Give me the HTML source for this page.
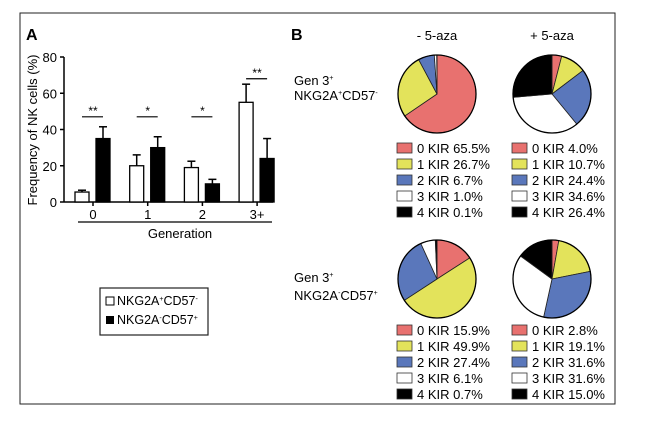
<!DOCTYPE html>
<html><head><meta charset="utf-8"><style>
body{margin:0;background:#fff;}
svg{display:block;font-family:"Liberation Sans",sans-serif;}
</style></head><body>
<svg width="650" height="423" viewBox="0 0 650 423">
<rect x="20" y="13" width="595" height="391" fill="none" stroke="#222" stroke-width="1"/>
<text x="26" y="40" font-size="16" font-weight="bold">A</text>
<text x="291" y="40" font-size="16" font-weight="bold">B</text>
<g id="barchart"></g>
<g>
<rect x="100" y="288" width="108" height="47" fill="#fff" stroke="#222" stroke-width="1.2"/>
<rect x="106" y="297" width="8" height="8" fill="#fff" stroke="#000"/>
<text x="117" y="305" font-size="12.5">NKG2A<tspan font-size="7" dy="-4">+</tspan><tspan dy="4">CD57</tspan><tspan font-size="7" dy="-4">-</tspan></text>
<rect x="106" y="316" width="8" height="8" fill="#000"/>
<text x="117" y="324" font-size="12.5">NKG2A<tspan font-size="7" dy="-4">-</tspan><tspan dy="4">CD57</tspan><tspan font-size="7" dy="-4">+</tspan></text>
</g>
<text x="437" y="40" font-size="13" text-anchor="middle">- 5-aza</text>
<text x="552" y="40" font-size="13" text-anchor="middle">+ 5-aza</text>
<text x="294" y="85" font-size="13">Gen 3<tspan font-size="7" dy="-5">+</tspan></text>
<text x="294" y="100" font-size="13">NKG2A<tspan font-size="7" dy="-5">+</tspan><tspan dy="5">CD57</tspan><tspan font-size="7" dy="-5">-</tspan></text>
<text x="294" y="282" font-size="13">Gen 3<tspan font-size="7" dy="-5">+</tspan></text>
<text x="294" y="300" font-size="13">NKG2A<tspan font-size="7" dy="-5">-</tspan><tspan dy="5">CD57</tspan><tspan font-size="7" dy="-5">+</tspan></text>
<g id="pies"></g>
</svg>
<script>
const NS="http://www.w3.org/2000/svg";
function mk(p,tag,a){const e=document.createElementNS(NS,tag);for(const k in a)e.setAttribute(k,a[k]);p.appendChild(e);return e;}
// Bar chart data
const generations=["0","1","2","3+"];
const whiteVals=[5.5,20,19,55];
const whiteErr=[1,6,3.5,10];
const blackVals=[35,30,10,24];
const blackErr=[6.5,6,2.5,11];
const sigLabels=["**","*","*","**"];
const sigLevels=[47,47,47,68];
const yTicks=[0,20,40,60,80];

const bc=document.getElementById("barchart");
const y0=202,yScale=145/80;
const Y=v=>y0-v*yScale;
const X=i=>93+i*54.7;
mk(bc,"line",{x1:64,y1:Y(80),x2:64,y2:y0,stroke:"#000","stroke-width":1.5});
mk(bc,"line",{x1:64,y1:y0,x2:273,y2:y0,stroke:"#000","stroke-width":1.5});
yTicks.forEach(t=>{
 mk(bc,"line",{x1:60,y1:Y(t),x2:64,y2:Y(t),stroke:"#000","stroke-width":1.5});
 const tx=mk(bc,"text",{x:57,y:Y(t)+5,"font-size":13,"text-anchor":"end"});tx.textContent=t;
 
 
});
const yt=mk(bc,"text",{transform:"translate(37,130) rotate(-90)","font-size":13,"text-anchor":"middle"});
yt.textContent="Frequency of NK cells (%)";


generations.forEach((g,i)=>{
 const cx=X(i);
 mk(bc,"line",{x1:cx,y1:y0,x2:cx,y2:y0+4,stroke:"#000","stroke-width":1.5});
 const t=mk(bc,"text",{x:cx,y:y0+17,"font-size":13,"text-anchor":"middle"});t.textContent=g;
 
 
 [[whiteVals,whiteErr,"#fff",-11],[blackVals,blackErr,"#000",10]].forEach(([v,e,f,off])=>{
  const bx=cx+off-7;
  mk(bc,"line",{x1:cx+off,y1:Y(v[i]),x2:cx+off,y2:Y(v[i]+e[i]),stroke:"#000","stroke-width":1.5});
  mk(bc,"line",{x1:cx+off-4,y1:Y(v[i]+e[i]),x2:cx+off+4,y2:Y(v[i]+e[i]),stroke:"#000","stroke-width":1.5});
  const r=mk(bc,"rect",{x:bx,y:Y(v[i]),width:14,height:v[i]*yScale,fill:f,stroke:"#000","stroke-width":1.3});
  
  
 });
 mk(bc,"line",{x1:cx-11,y1:Y(sigLevels[i]),x2:cx+10,y2:Y(sigLevels[i]),stroke:"#000","stroke-width":1.2});
 const s=mk(bc,"text",{x:cx,y:Y(sigLevels[i])-2,"font-size":12,"text-anchor":"middle"});s.textContent=sigLabels[i];
 
 
});
mk(bc,"line",{x1:78,y1:222,x2:272,y2:222,stroke:"#000","stroke-width":1.2});
const xt=mk(bc,"text",{x:180,y:238,"font-size":13,"text-anchor":"middle"});xt.textContent="Generation";



// Pie data
const kirLabels=["0 KIR","1 KIR","2 KIR","3 KIR","4 KIR"];
const kirColors=["#e8716f","#e3e35b","#5a77bb","#ffffff","#000000"];
const pieTopMinus=[65.5,26.7,6.7,1.0,0.1];
const pieTopPlus=[4.0,10.7,24.4,34.6,26.4];
const pieBotMinus=[15.9,49.9,27.4,6.1,0.7];
const pieBotPlus=[2.8,19.1,31.6,31.6,15.0];
const pg=document.getElementById("pies");
function pie(vals,cx,cy,r,ly,name){
 const g=mk(pg,"g",{});
 
 
 const tot=vals.reduce((a,b)=>a+b,0);let a0=0;
 vals.forEach((v,i)=>{
  const a1=a0+v/tot*2*Math.PI;
  const p=(a)=>[cx+r*Math.sin(a),cy-r*Math.cos(a)];
  const [x0,y0_]=p(a0),[x1,y1]=p(a1);
  const path=mk(g,"path",{d:`M${cx},${cy}L${x0},${y0_}A${r},${r} 0 ${a1-a0>Math.PI?1:0} 1 ${x1},${y1}Z`,fill:kirColors[i],stroke:"#222","stroke-width":0.8});
  
  
  a0=a1;
 });
 mk(g,"circle",{cx:cx,cy:cy,r:r,fill:"none",stroke:"#000","stroke-width":1.3});
 vals.forEach((v,i)=>{
  const yy=ly+i*16;
  mk(g,"rect",{x:cx-40,y:yy-10,width:15,height:10,fill:kirColors[i],stroke:"#333","stroke-width":0.8});
  const t=mk(g,"text",{x:cx-20,y:yy,"font-size":13});t.textContent=kirLabels[i]+" "+v.toFixed(1)+"%";
  
  
 });
}
pie(pieTopMinus,437,94,39,153,"pie-top-minus-aza");
pie(pieTopPlus,552,94,39,153,"pie-top-plus-aza");
pie(pieBotMinus,437,279,39,335,"pie-bottom-minus-aza");
pie(pieBotPlus,552,279,39,335,"pie-bottom-plus-aza");
</script>
</body></html>
